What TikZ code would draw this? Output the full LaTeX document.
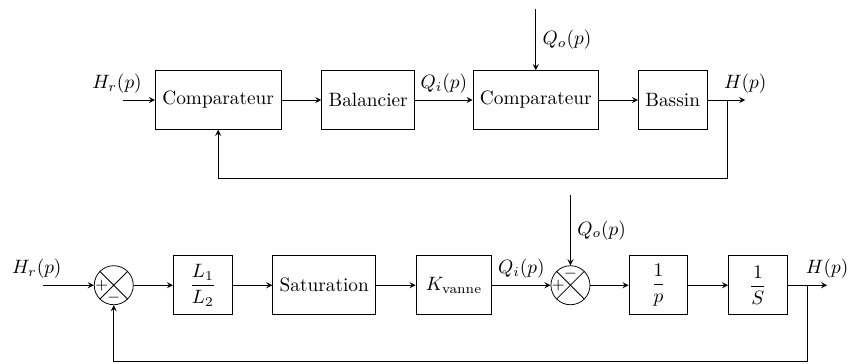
\documentclass[tikz,border=0pt]{standalone}
\usepackage{amssymb,amsmath}
\usepackage{tikz}
\usetikzlibrary{arrows,positioning,calc}

\begin{document}
\begin{tikzpicture}[
    >=stealth,
    block/.style={draw, rectangle, minimum height=1.07cm, minimum width=1.07cm, inner xsep=3.6pt},
    sum/.style={circle, draw, minimum size=0.71cm, inner sep=0pt,
      path picture={\draw (path picture bounding box.north west) -- (path picture bounding box.south east)
        (path picture bounding box.south west) -- (path picture bounding box.north east);}},
    sign/.style={font=\footnotesize, inner sep=0pt}
]
  \useasboundingbox (0,0) rectangle (15.43,6.61);

  % top nodes
  \coordinate (hr1) at (2.24,4.79);
  \node[block] (c1) at (3.97,4.79) {Comparateur};
  \node[block] (bal) at (6.70,4.79) {Balancier};
  \node[block] (c2) at (9.75,4.79) {Comparateur};
  \node[block] (bas) at (12.24,4.79) {Bassin};
  \coordinate (qo1) at (9.75,6.44);
  \coordinate (b1) at (13.23,4.79);
  \coordinate (h1) at (13.56,4.79);
  \coordinate (f1) at (3.97,3.37);

  % top edges
  \draw[->] (hr1) node[above, xshift=-0.11cm] {$H_r(p)$} -- (c1);
  \draw[->] (c1) -- (bal);
  \draw[->] (bal) -- node[above] {$Q_i(p)$} (c2);
  \draw[->] (qo1) -- node[right] {$Q_o(p)$} (c2);
  \draw[->] (c2) -- (bas);
  \draw[->] (bas) -- (h1) node[above] {$H(p)$};
  \draw[->] (b1) |- (f1) -- (c1.south);

  % bottom nodes
  \coordinate (hr2) at (0.78,1.42);
  \node[sum] (s1) at (2.07,1.42) {};
  \node[sign] (s1p) at ([xshift=-0.22cm]s1.center) {$+$};
  \node[sign] (s1m) at ([yshift=-0.22cm]s1.center) {$-$};
  \node[block] (gain) at (3.69,1.42) {$\dfrac{L_1}{L_2}$};
  \node[block] (sat) at (5.90,1.42) {Saturation};
  \node[block, minimum width=1.38cm] (kv) at (8.26,1.42) {$K_{\text{vanne}}$};
  \node[sum] (s2) at (10.38,1.42) {};
  \node[sign] (s2p) at ([xshift=-0.22cm]s2.center) {$+$};
  \node[sign] (s2m) at ([yshift=0.22cm]s2.center) {$-$};
  \node[block] (ip) at (11.98,1.42) {$\dfrac{1}{p}$};
  \node[block] (iS) at (13.79,1.42) {$\dfrac{1}{S}$};
  \coordinate (qo2) at (10.38,3.06);
  \coordinate (b2) at (14.69,1.42);
  \coordinate (h2) at (15.05,1.42);
  \coordinate (f2) at (2.07,0.03);

  % bottom edges
  \draw[->] (hr2) node[above, xshift=-0.11cm] {$H_r(p)$} -- (s1);
  \draw[->] (s1) -- (gain);
  \draw[->] (gain) -- (sat);
  \draw[->] (sat) -- (kv);
  \draw[->] (kv) -- node[above] {$Q_i(p)$} (s2);
  \draw[->] (qo2) -- node[right] {$Q_o(p)$} (s2);
  \draw[->] (s2) -- (ip);
  \draw[->] (ip) -- (iS);
  \draw[->] (iS) -- (h2) node[above] {$H(p)$};
  \draw[->] (b2) |- (f2) -- (s1.south);
\end{tikzpicture}
\end{document}
